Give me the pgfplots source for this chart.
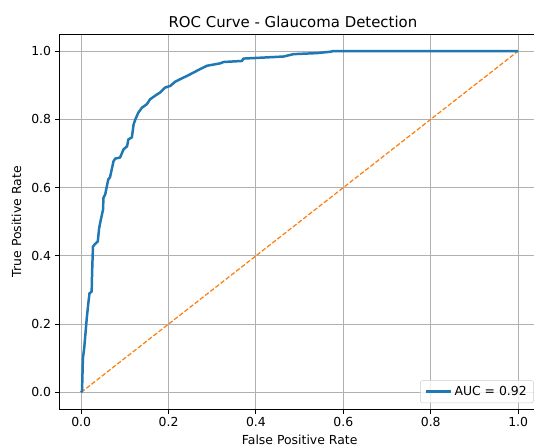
\documentclass[border=0pt]{standalone}
\usepackage{pgfplots}
\pgfplotsset{compat=1.18}
\usepackage{fontspec}
\setmainfont{DejaVu Sans}
\definecolor{mplblue}{HTML}{1F77B4}
\definecolor{mplorange}{HTML}{FF7F0E}
\definecolor{gridgray}{HTML}{B0B0B0}
\definecolor{legendedge}{HTML}{CCCCCC}
\begin{document}
\begin{tikzpicture}
\useasboundingbox (-52.5pt,-32.5pt) rectangle (420.1pt,362.3pt);
\clip (-52.5pt,-32.5pt) rectangle (420.1pt,362.3pt);
\begin{axis}[
  scale only axis,
  width=425.4pt, height=332.2pt,
  xmin=-0.05, xmax=1.05, ymin=-0.05, ymax=1.05,
  xtick={0,0.2,0.4,0.6,0.8,1.0},
  ytick={0,0.2,0.4,0.6,0.8,1.0},
  xticklabel style={/pgf/number format/fixed,/pgf/number format/fixed zerofill,/pgf/number format/precision=1},
  yticklabel style={/pgf/number format/fixed,/pgf/number format/fixed zerofill,/pgf/number format/precision=1},
  /pgf/number format/assume math mode=true,
  tick label style={font=\fontsize{11}{13}\selectfont},
  label style={font=\fontsize{11}{13}\selectfont},
  tick align=outside, tick pos=left,
  major tick length=3.8pt,
  axis line style={line width=0.85pt},
  every tick/.style={line width=0.85pt, black},
  grid=major,
  major grid style={line width=0.85pt, gridgray},
  xlabel={False Positive Rate},
  ylabel={True Positive Rate},
  ylabel style={yshift=2pt},
  title={ROC Curve - Glaucoma Detection},
  every axis title shift=0pt,
  title style={font=\fontsize{13.2}{15}\selectfont, at={(0.486,1)}, anchor=base, yshift=6.2pt},
  legend style={at={(1,0)}, anchor=south east, xshift=-5.5pt, yshift=5.6pt,
    draw=legendedge, rounded corners=2pt, fill=white, fill opacity=0.8, text opacity=1,
    font=\fontsize{11}{13}\selectfont, inner xsep=4pt, inner ysep=3pt},
  legend cell align=left,
  legend image code/.code={\draw[#1] (0pt,0pt) -- (22pt,0pt);},
]
\addplot[mplorange, line width=1.1pt, dash pattern=on 4pt off 1.8pt, forget plot] coordinates {(0,0) (1,1)};
\addplot[mplblue, line width=2.2pt, line join=round] coordinates {
(0,0) (0.002,0.004) (0.004,0.10) (0.007,0.13) (0.009,0.16) (0.013,0.22)
(0.016,0.256) (0.019,0.29) (0.024,0.295) (0.025,0.35) (0.027,0.427)
(0.032,0.435) (0.038,0.442) (0.041,0.48) (0.045,0.506) (0.050,0.535)
(0.051,0.57) (0.055,0.58) (0.062,0.624) (0.066,0.63) (0.074,0.677)
(0.078,0.685) (0.089,0.688) (0.097,0.712) (0.105,0.721) (0.108,0.741)
(0.116,0.747) (0.120,0.785) (0.124,0.80) (0.131,0.82) (0.139,0.834)
(0.150,0.844) (0.158,0.859) (0.169,0.869) (0.181,0.879) (0.192,0.893)
(0.204,0.898) (0.215,0.91) (0.227,0.918) (0.242,0.927) (0.257,0.937)
(0.272,0.947) (0.288,0.957) (0.318,0.964) (0.326,0.968) (0.368,0.971)
(0.371,0.978) (0.402,0.98) (0.463,0.984) (0.486,0.991) (0.539,0.994)
(0.570,0.998) (0.577,1.0) (1,1)
};
\addlegendentry{AUC = 0.92}
\end{axis}
\end{tikzpicture}
\end{document}
